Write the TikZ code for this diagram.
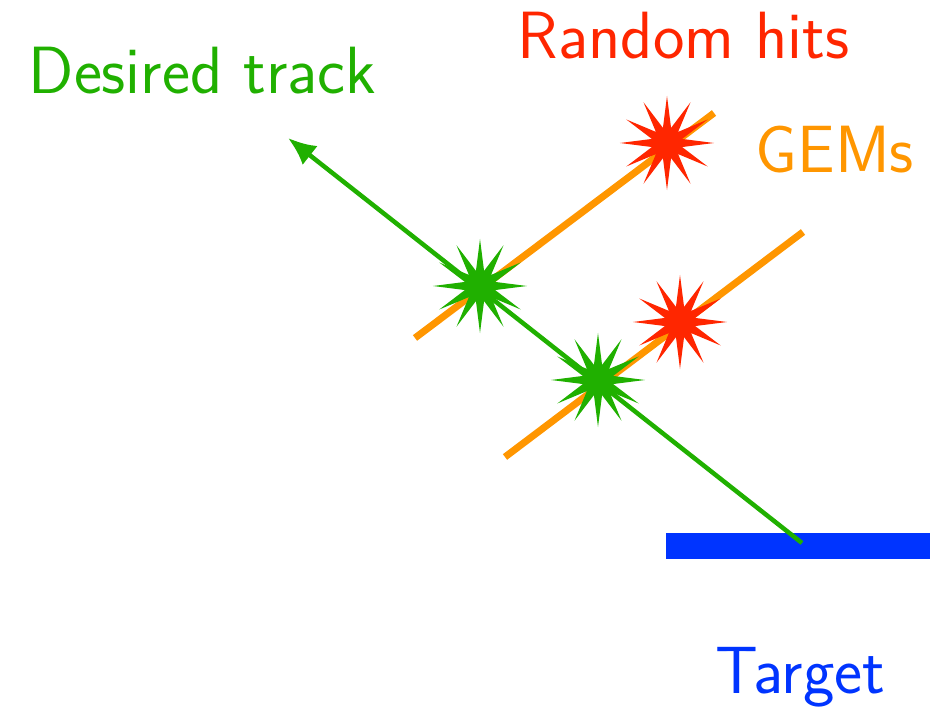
\documentclass[tikz,border=0pt]{standalone}
\usetikzlibrary{shapes.geometric,arrows.meta}
\definecolor{trackgreen}{RGB}{32,176,0}
\definecolor{hitred}{RGB}{255,38,0}
\definecolor{gemorange}{RGB}{255,150,0}
\definecolor{targetblue}{RGB}{0,52,255}

\begin{document}
\begin{tikzpicture}[x=0.01cm, y=0.01cm,
  lbl/.style={anchor=base west, inner sep=0pt, font=\sffamily\fontsize{19}{22}\selectfont},
  hit/.style={star, star points=12, star point ratio=3.0, minimum size=0.94cm,
              inner sep=0pt, draw=none, fill=#1},
  gem/.style={gemorange, line width=0.07cm},
  trk/.style={trackgreen, line width=0.045cm, -{Latex[length=0.28cm, width=0.24cm]}}
]
\useasboundingbox (0,0) rectangle (930,709);

% target and GEM planes
\fill[targetblue] (666,150) rectangle (930,176);
\coordinate (g1a) at (415,371);
\coordinate (g1b) at (714,596);
\coordinate (g2a) at (505,252);
\coordinate (g2b) at (803,477);
\draw[gem] (g1a) -- (g1b);
\draw[gem] (g2a) -- (g2b);

% track
\coordinate (vtx) at (802,166);
\coordinate (tip) at (288,571);
\draw[trk] (vtx) -- (tip);

% hits
\node[hit=trackgreen] (good1) at (480,423) {};
\node[hit=trackgreen] (good2) at (598,329) {};
\node[hit=hitred] (noise1) at (667,566) {};
\node[hit=hitred] (noise2) at (680,387) {};

% labels
\node[lbl, text=trackgreen] (ltrack) at (28,615) {Desired track};
\node[lbl, text=hitred] (lhits) at (517,650) {Random hits};
\node[lbl, text=gemorange] (lgems) at (755,536) {GEMs};
\node[lbl, text=targetblue] (ltarget) at (715,15) {Target};
\end{tikzpicture}
\end{document}
